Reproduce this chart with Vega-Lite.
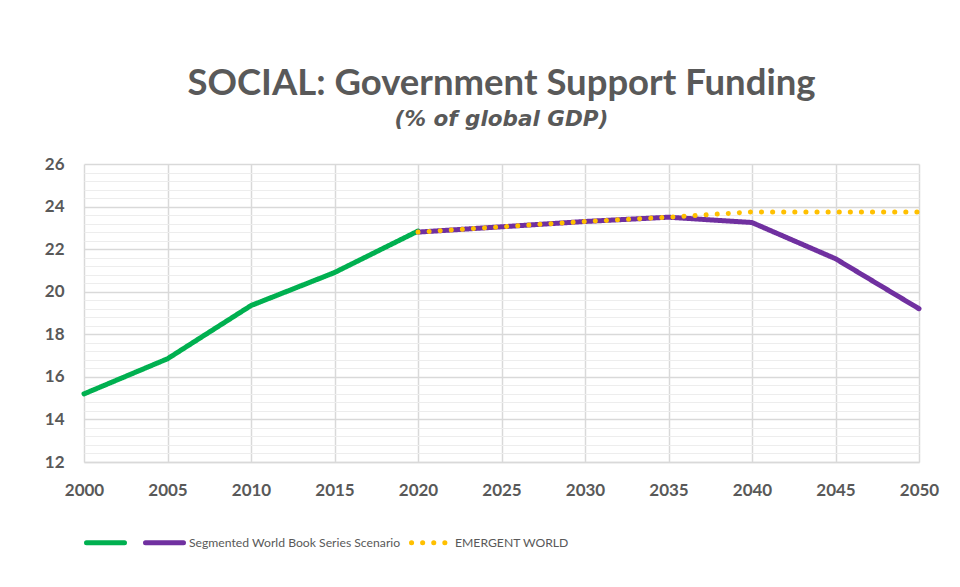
{
  "$schema": "https://vega.github.io/schema/vega-lite/v6.json",
  "width": 835,
  "height": 298,
  "padding": {"left": 44, "top": 66, "right": 10, "bottom": 10},
  "background": "white",
  "title": {
    "text": "SOCIAL: Government Support Funding",
    "subtitle": "(% of global GDP)",
    "anchor": "middle",
    "font": "Lato",
    "fontSize": 36.5,
    "fontWeight": "bold",
    "color": "#595959",
    "subtitleFont": "DejaVu Sans",
    "subtitleFontSize": 21.5,
    "subtitleFontWeight": "bold",
    "subtitleFontStyle": "italic",
    "subtitleColor": "#595959",
    "subtitlePadding": 6,
    "offset": 25
  },
  "data": {
    "values": [
      {"year": 2000, "value": 15.2, "series": "Historical"},
      {"year": 2005, "value": 16.85, "series": "Historical"},
      {"year": 2010, "value": 19.35, "series": "Historical"},
      {"year": 2015, "value": 20.9, "series": "Historical"},
      {"year": 2020, "value": 22.85, "series": "Historical"},
      {"year": 2020, "value": 22.8, "series": "Segmented World Book Series Scenario"},
      {"year": 2025, "value": 23.05, "series": "Segmented World Book Series Scenario"},
      {"year": 2030, "value": 23.3, "series": "Segmented World Book Series Scenario"},
      {"year": 2035, "value": 23.5, "series": "Segmented World Book Series Scenario"},
      {"year": 2040, "value": 23.25, "series": "Segmented World Book Series Scenario"},
      {"year": 2045, "value": 21.55, "series": "Segmented World Book Series Scenario"},
      {"year": 2050, "value": 19.2, "series": "Segmented World Book Series Scenario"},
      {"year": 2020, "value": 22.8, "series": "EMERGENT WORLD"},
      {"year": 2025, "value": 23.05, "series": "EMERGENT WORLD"},
      {"year": 2030, "value": 23.3, "series": "EMERGENT WORLD"},
      {"year": 2035, "value": 23.5, "series": "EMERGENT WORLD"},
      {"year": 2040, "value": 23.75, "series": "EMERGENT WORLD"},
      {"year": 2045, "value": 23.75, "series": "EMERGENT WORLD"},
      {"year": 2050, "value": 23.75, "series": "EMERGENT WORLD"}
    ]
  },
  "mark": {"type": "line", "strokeWidth": 5, "strokeCap": "round", "strokeJoin": "round"},
  "encoding": {
    "x": {
      "field": "year",
      "type": "quantitative",
      "scale": {"domain": [2000, 2050], "nice": false, "zero": false},
      "axis": {
        "title": null,
        "values": [2000, 2005, 2010, 2015, 2020, 2025, 2030, 2035, 2040, 2045, 2050],
        "format": "d",
        "labelFont": "Lato",
        "labelFontSize": 17,
        "labelFontWeight": "bold",
        "labelColor": "#595959",
        "labelPadding": 20,
        "labelFlush": false,
        "ticks": false,
        "domainColor": "#d9d9d9",
        "domainWidth": 1.5,
        "grid": true,
        "gridColor": "#d9d9d9",
        "gridWidth": 1.5,
        "labelOverlap": false
      }
    },
    "y": {
      "field": "value",
      "type": "quantitative",
      "scale": {"domain": [12, 26], "nice": false, "zero": false},
      "axis": {
        "title": null,
        "values": [12, 12.4, 12.8, 13.2, 13.6, 14, 14.4, 14.8, 15.2, 15.6, 16, 16.4, 16.8, 17.2, 17.6, 18, 18.4, 18.8, 19.2, 19.6, 20, 20.4, 20.8, 21.2, 21.6, 22, 22.4, 22.8, 23.2, 23.6, 24, 24.4, 24.8, 25.2, 25.6, 26],
        "labelExpr": "abs(datum.value - round(datum.value / 2) * 2) < 0.01 ? format(datum.value, 'd') : ''",
        "labelFont": "Lato",
        "labelFontSize": 17,
        "labelFontWeight": "bold",
        "labelColor": "#595959",
        "labelPadding": 20,
        "labelOverlap": false,
        "labelFlush": false,
        "ticks": false,
        "domain": false,
        "grid": true,
        "gridColor": {"condition": {"test": "abs(datum.value - round(datum.value / 2) * 2) < 0.01", "value": "#d9d9d9"}, "value": "#ededed"},
        "gridWidth": {"condition": {"test": "abs(datum.value - round(datum.value / 2) * 2) < 0.01", "value": 1.5}, "value": 1}
      }
    },
    "color": {
      "field": "series",
      "type": "nominal",
      "scale": {
        "domain": ["Historical", "Segmented World Book Series Scenario", "EMERGENT WORLD"],
        "range": ["#00B050", "#7030A0", "#FFC000"]
      },
      "legend": {
        "title": null,
        "orient": "bottom",
        "direction": "horizontal",
        "labelExpr": "datum.label == 'Historical' ? '' : datum.label",
        "symbolType": "stroke",
        "symbolSize": 1444,
        "symbolStrokeWidth": 5,
        "labelFont": "Lato",
        "labelFontSize": 12.2,
        "labelColor": "#595959",
        "labelOffset": 3,
        "labelLimit": 400,
        "columnPadding": 0,
        "offset": 23,
        "encode": {"symbols": {"update": {"strokeCap": {"value": "round"}}}}
      }
    },
    "strokeDash": {
      "field": "series",
      "type": "nominal",
      "scale": {
        "domain": ["Historical", "Segmented World Book Series Scenario", "EMERGENT WORLD"],
        "range": [[1, 0], [1, 0], [0.1, 11]]
      },
      "legend": {
        "title": null,
        "orient": "bottom",
        "direction": "horizontal",
        "labelExpr": "datum.label == 'Historical' ? '' : datum.label",
        "symbolType": "stroke",
        "symbolSize": 1444,
        "symbolStrokeWidth": 5,
        "labelFont": "Lato",
        "labelFontSize": 12.2,
        "labelColor": "#595959",
        "labelOffset": 3,
        "labelLimit": 400,
        "columnPadding": 0,
        "offset": 23,
        "encode": {"symbols": {"update": {"strokeCap": {"value": "round"}}}}
      }
    },
    "strokeWidth": {
      "field": "series",
      "type": "nominal",
      "scale": {
        "domain": ["Historical", "Segmented World Book Series Scenario", "EMERGENT WORLD"],
        "range": [5, 5, 4]
      },
      "legend": null
    }
  },
  "config": {"view": {"stroke": null}}
}
